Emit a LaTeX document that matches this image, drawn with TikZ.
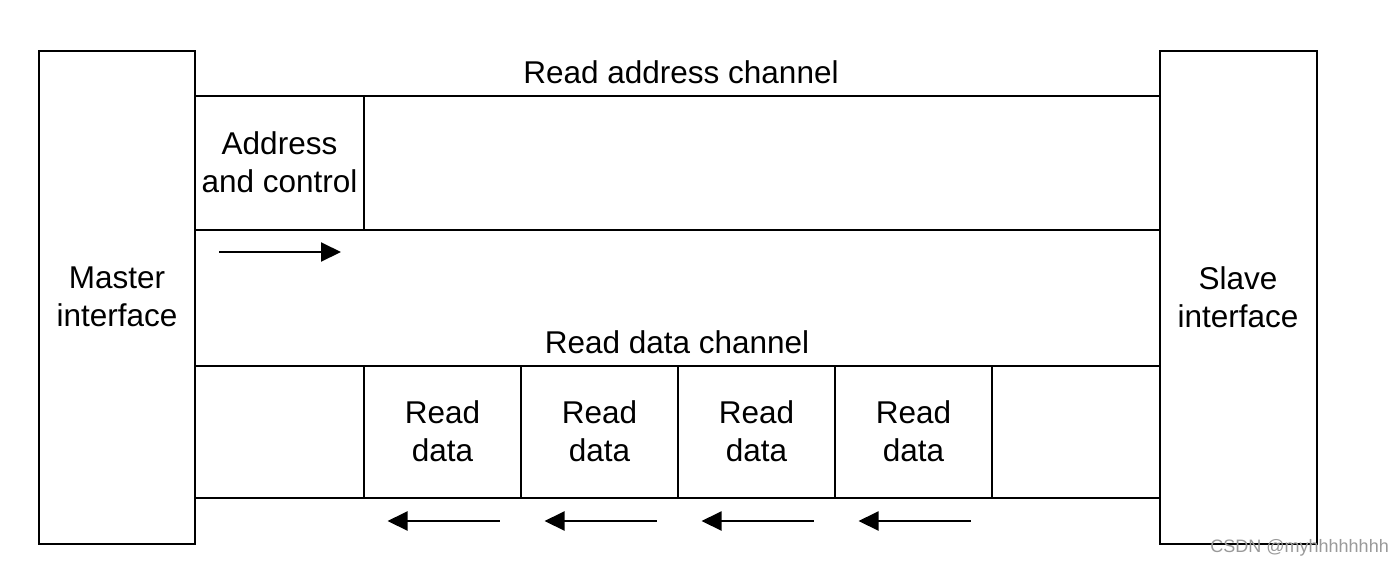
\documentclass[tikz,border=0pt]{standalone}
\usepackage{fontspec}
\setmainfont{Liberation Sans}
\usetikzlibrary{arrows.meta}
\begin{document}
\begin{tikzpicture}[x=1pt,y=-1pt,
  lbl/.style={font=\fontsize{31.5}{38}\selectfont, align=center, inner sep=0pt},
  box/.style={draw, line width=2.3pt, inner sep=0pt},
  bus/.style={line width=2pt},
  flow/.style={line width=2pt, -{Triangle[length=20pt,width=19pt]}, shorten >=0pt}]
\useasboundingbox (0,0) rectangle (1400,566);
% interfaces
\node[box, minimum width=156pt, minimum height=493pt] (master) at (117,297.5) {};
\node[lbl] (mlabel) at (117,297) {Master\\interface};
\node[box, minimum width=157pt, minimum height=493pt] (slave) at (1238.5,297.5) {};
\node[lbl] (slabel) at (1238,297) {Slave\\interface};
% bus lines
\coordinate (a1) at (195,96);  \coordinate (b1) at (1160,96);
\coordinate (a2) at (195,230); \coordinate (b2) at (1160,230);
\coordinate (a3) at (195,366); \coordinate (b3) at (1160,366);
\coordinate (a4) at (195,498); \coordinate (b4) at (1160,498);
\draw[bus] (a1) -- (b1);
\draw[bus] (a2) -- (b2);
\draw[bus] (a3) -- (b3);
\draw[bus] (a4) -- (b4);
% read address channel
\node[lbl] (rac) at (681,72) {Read address channel};
\node[box, line width=2pt, minimum width=169pt, minimum height=134pt] (addr) at (279.5,163) {};
\node[lbl] (addrlbl) at (279.5,162) {Address\\and control};
\coordinate (ar1) at (219,252); \coordinate (ar2) at (341,252);
\draw[flow] (ar1) -- (ar2);
% read data channel
\node[lbl] (rdc) at (677,342) {Read data channel};
\foreach \i/\x in {1/442.5, 2/599.5, 3/756.5, 4/913.5} {
  \node[box, line width=2pt, minimum width=157pt, minimum height=132pt] (rd\i) at (\x,432) {};
  \node[lbl] (rdl\i) at (\x,431) {Read\\data};
  \coordinate (s\i) at (\x+57,521);
  \coordinate (e\i) at (\x-55,521);
  \draw[flow] (s\i) -- (e\i);
}
% watermark
\node[font=\fontsize{18}{21}\selectfont, text=black!40, anchor=east, inner sep=0pt] (wm) at (1389,548) {CSDN @myhhhhhhhh};
\end{tikzpicture}
\end{document}
